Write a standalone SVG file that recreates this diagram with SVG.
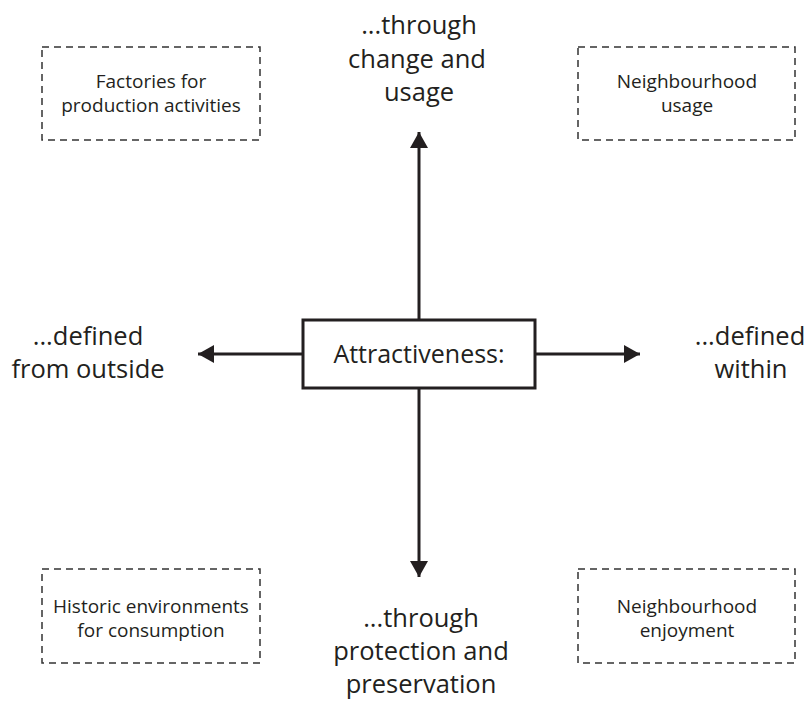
<svg xmlns="http://www.w3.org/2000/svg" width="808" height="704" viewBox="0 0 808 704">
<style>
text{font-family:"Open Sans","Liberation Sans",sans-serif;fill:#231f20;text-anchor:middle}
.big{font-size:25.5px}
.mid{font-size:25px}
.small{font-size:19px}
.dash{fill:none;stroke:#333;stroke-width:1.5;stroke-dasharray:7 5}
.conn{stroke:#231f20;stroke-width:3;fill:none}
</style>
<defs>
<marker id="ah" viewBox="0 0 16 18" refX="16" refY="9" markerWidth="16" markerHeight="18" markerUnits="userSpaceOnUse" orient="auto">
<path d="M0,0 L16,9 L0,18 Z" fill="#231f20"/>
</marker>
</defs>
<rect width="808" height="704" fill="#fff"/>
<g id="connectors">
<line class="conn" x1="419" y1="320" x2="419" y2="132" marker-end="url(#ah)"/>
<line class="conn" x1="419" y1="388" x2="419" y2="577" marker-end="url(#ah)"/>
<line class="conn" x1="303" y1="354" x2="198" y2="354" marker-end="url(#ah)"/>
<line class="conn" x1="535" y1="354" x2="640" y2="354" marker-end="url(#ah)"/>
</g>
<g id="center">
<rect x="303" y="320" width="232" height="68" fill="#fff" stroke="#231f20" stroke-width="3"/>
<text class="mid" x="419" y="363">Attractiveness:</text>
</g>
<g id="top">
<text class="big" x="419" y="34">...through</text>
<text class="big" x="417" y="68">change and</text>
<text class="big" x="419" y="101">usage</text>
</g>
<g id="bottom">
<text class="big" x="421" y="627">...through</text>
<text class="big" x="421" y="660">protection and</text>
<text class="big" x="421" y="693">preservation</text>
</g>
<g id="left">
<text class="big" x="88" y="345">...defined</text>
<text class="big" x="88" y="378">from outside</text>
</g>
<g id="right">
<text class="big" x="750" y="345">...defined</text>
<text class="big" x="751" y="378">within</text>
</g>
<g id="factories">
<rect class="dash" x="42" y="47" width="218" height="93"/>
<text class="small" x="151" y="88">Factories for</text>
<text class="small" x="151" y="112">production activities</text>
</g>
<g id="neighbourhood-usage">
<rect class="dash" x="578" y="47" width="217" height="93"/>
<text class="small" x="687" y="88">Neighbourhood</text>
<text class="small" x="687" y="112">usage</text>
</g>
<g id="historic">
<rect class="dash" x="42" y="569" width="218" height="94"/>
<text class="small" x="151" y="613">Historic environments</text>
<text class="small" x="151" y="637">for consumption</text>
</g>
<g id="neighbourhood-enjoyment">
<rect class="dash" x="578" y="569" width="217" height="94"/>
<text class="small" x="687" y="613">Neighbourhood</text>
<text class="small" x="687" y="637">enjoyment</text>
</g>
</svg>
